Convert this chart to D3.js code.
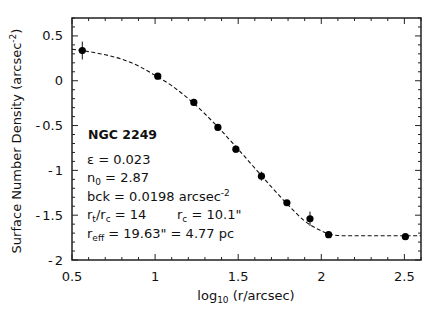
<!DOCTYPE html>
<html>
<head>
<meta charset="utf-8">
<script src="https://cdn.jsdelivr.net/npm/d3@7"></script>
<style>
  body { margin: 0; background: #fff; }
  svg text { font-family: "DejaVu Sans", Arial, Helvetica, sans-serif; fill: #111; }
</style>
</head>
<body>
<div id="chart"></div>
<script>
// observed profile points (log10 r, log surface density, error)
const logR = [0.562, 1.016, 1.233, 1.378, 1.486, 1.640, 1.793, 1.932, 2.044, 2.506]
const logDens = [0.337, 0.051, -0.242, -0.521, -0.763, -1.065, -1.361, -1.540, -1.718, -1.740]
const errs = [0.10, 0.03, 0.04, 0.02, 0.04, 0.05, 0.03, 0.08, 0.015, 0.03]
// fitted King profile
const fitX = [0.5, 0.6, 0.7, 0.8, 0.9, 1.0, 1.1, 1.2, 1.3, 1.4, 1.5, 1.6, 1.7, 1.8, 1.9, 2.0, 2.05, 2.1, 2.15, 2.6]
const fitY = [0.352, 0.325, 0.29, 0.24, 0.165, 0.06, -0.055, -0.20, -0.37, -0.56, -0.765, -0.975, -1.185, -1.385, -1.565, -1.675, -1.712, -1.726, -1.73, -1.73]
// axis ticks
const xTicks = [0.5, 1, 1.5, 2, 2.5]
const yTicks = [0.5, 0, -0.5, -1, -1.5, -2]

const width = 447, height = 322
const margin = { top: 18, right: 26, bottom: 62, left: 72 }
const pw = width - margin.left - margin.right
const ph = height - margin.top - margin.bottom

const svg = d3.select('#chart').append('svg')
  .attr('width', width)
  .attr('height', height)

const g = svg.append('g')
  .attr('transform', `translate(${margin.left}, ${margin.top})`)

const x = d3.scaleLinear().domain([0.5, 2.6]).range([0, pw])
const y = d3.scaleLinear().domain([-2, 0.7]).range([ph, 0])

// minor/major ticks on all four sides, pointing inward
const xMinor = d3.range(5, 27).map(d => d / 10)
const yMinor = d3.range(-20, 8).map(d => d / 10)
const isMajor = v => Math.abs(v * 2 - Math.round(v * 2)) < 1e-6

const tickG = g.append('g').attr('stroke', '#222').attr('stroke-width', 1)
xMinor.forEach(v => {
  const len = isMajor(v) ? 6 : 3
  tickG.append('line').attr('x1', x(v)).attr('x2', x(v)).attr('y1', ph).attr('y2', ph - len)
  tickG.append('line').attr('x1', x(v)).attr('x2', x(v)).attr('y1', 0).attr('y2', len)
})
yMinor.forEach(v => {
  const len = isMajor(v) ? 6 : 3
  tickG.append('line').attr('y1', y(v)).attr('y2', y(v)).attr('x1', 0).attr('x2', len)
  tickG.append('line').attr('y1', y(v)).attr('y2', y(v)).attr('x1', pw).attr('x2', pw - len)
})

// frame
g.append('rect')
  .attr('width', pw).attr('height', ph)
  .attr('fill', 'none').attr('stroke', '#222').attr('stroke-width', 1.5)

// tick labels
g.selectAll('.xl').data(xTicks).enter().append('text')
  .attr('x', d => x(d)).attr('y', ph + 21)
  .attr('text-anchor', 'middle').attr('font-size', 13)
  .text(d => d)
g.selectAll('.yl').data(yTicks).enter().append('text')
  .attr('x', -9).attr('y', d => y(d) + 4.5)
  .attr('text-anchor', 'end').attr('font-size', 13)
  .each(function (d) {
    const t = d3.select(this)
    if (d < 0) {
      t.append('tspan').text('-')
      t.append('tspan').attr('dx', 2).text(String(-d))
    } else {
      t.text(d)
    }
  })

// axis titles
const xt = svg.append('text')
  .attr('x', 246).attr('y', 300)
  .attr('text-anchor', 'middle').attr('font-size', 13)
xt.append('tspan').text('log')
xt.append('tspan').attr('font-size', 9).attr('dy', 3).text('10')
xt.append('tspan').attr('dy', -3).text(' (r/arcsec)')

const yt = svg.append('text')
  .attr('transform', 'translate(21, 141) rotate(-90)')
  .attr('text-anchor', 'middle').attr('font-size', 13)
yt.append('tspan').text('Surface Number Density (arcsec')
yt.append('tspan').attr('font-size', 9).attr('dy', -5).text('-2')
yt.append('tspan').attr('dy', 5).text(')')

// fit curve
const line = d3.line()
  .x(d => x(d[0]))
  .y(d => y(d[1]))
  .curve(d3.curveMonotoneX)
g.append('path')
  .datum(fitX.map((v, i) => [v, fitY[i]]))
  .attr('d', line)
  .attr('fill', 'none')
  .attr('stroke', '#111')
  .attr('stroke-width', 1.1)
  .attr('stroke-dasharray', '4,2.5')

// error bars and points
const pts = logR.map((v, i) => ({ x: v, y: logDens[i], e: errs[i] }))
g.selectAll('.err').data(pts).enter().append('line')
  .attr('x1', d => x(d.x)).attr('x2', d => x(d.x))
  .attr('y1', d => y(d.y + d.e)).attr('y2', d => y(d.y - d.e))
  .attr('stroke', '#111').attr('stroke-width', 1)
g.selectAll('.pt').data(pts).enter().append('circle')
  .attr('cx', d => x(d.x)).attr('cy', d => y(d.y))
  .attr('r', 3.6).attr('fill', '#000')

// annotation text
const tx = 15, ty0 = 121, dy = 18.6
g.append('text').attr('x', tx + 1).attr('y', ty0)
  .attr('font-size', 12.5).attr('font-weight', 'bold').text('NGC 2249')

const addLine = (row, parts) => {
  const t = g.append('text').attr('x', tx).attr('y', ty0 + 24.5 + dy * row).attr('font-size', 13)
  parts.forEach(p => {
    const s = t.append('tspan').text(p.t)
    if (p.sub) s.attr('font-size', 9).attr('dy', 3)
    if (p.sup) s.attr('font-size', 9).attr('dy', -5)
    if (p.back) s.attr('dy', p.back)
    if (p.x !== undefined) s.attr('x', p.x)
  })
}
addLine(0, [{ t: 'ε = 0.023' }])
addLine(1, [{ t: 'n' }, { t: '0', sub: true }, { t: ' = 2.87', back: -3 }])
addLine(2, [{ t: 'bck = 0.0198 arcsec' }, { t: '-2', sup: true }])
addLine(3, [{ t: 'r' }, { t: 't', sub: true }, { t: '/r', back: -3 }, { t: 'c', sub: true }, { t: ' = 14', back: -3 },
  { t: 'r', x: 105 }, { t: 'c', sub: true }, { t: ' = 10.1"', back: -3 }])
addLine(4, [{ t: 'r' }, { t: 'eff', sub: true }, { t: ' = 19.63" = 4.77 pc', back: -3 }])
</script>
</body>
</html>
